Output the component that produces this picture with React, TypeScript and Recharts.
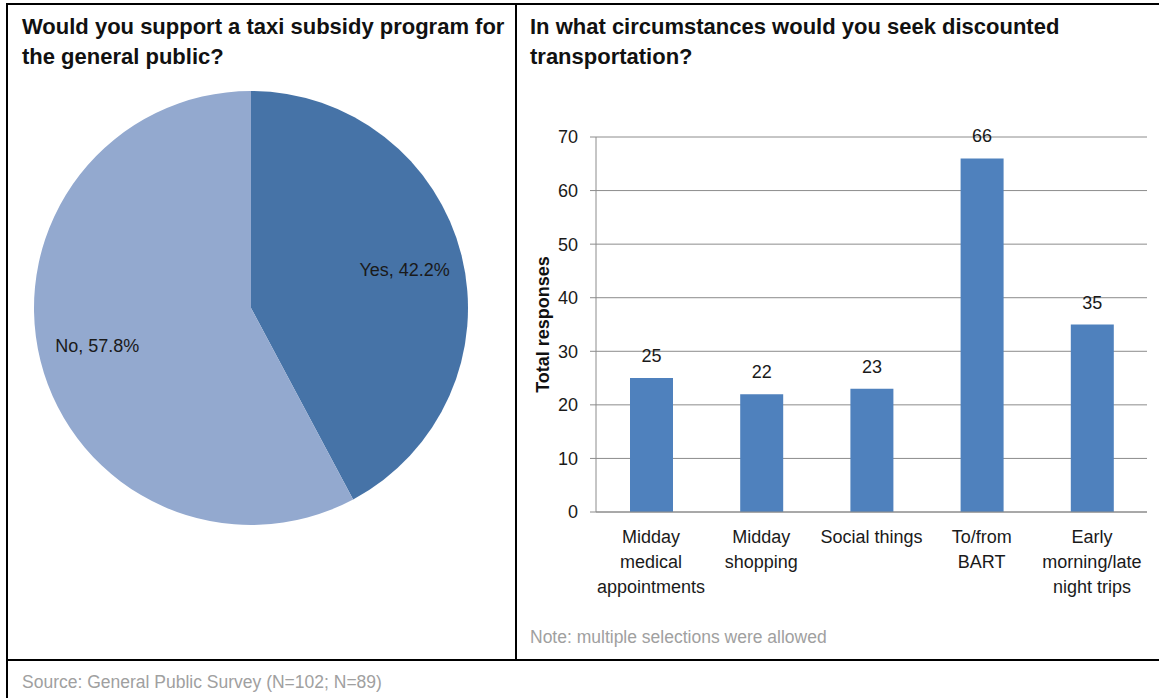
import React from 'react';
import { PieChart, Pie, Cell, BarChart, Bar, XAxis, YAxis, CartesianGrid, LabelList } from 'recharts';

const pieNames = ['Yes', 'No'];
const pieValues = [42.2, 57.8];
const pieColors = ['#4673A7', '#93A9CF'];

const categories = [
  'Midday medical appointments',
  'Midday shopping',
  'Social things',
  'To/from BART',
  'Early morning/late night trips',
];
const categoryLines = [
  ['Midday', 'medical', 'appointments'],
  ['Midday', 'shopping'],
  ['Social things'],
  ['To/from', 'BART'],
  ['Early', 'morning/late', 'night trips'],
];
const responses = [25, 22, 23, 66, 35];
const yTicks = [0, 10, 20, 30, 40, 50, 60, 70];

const FONT = '"Liberation Sans", Arial, sans-serif';

const pieData = pieNames.map((name, i) => ({ name, value: pieValues[i] }));
const barData = categories.map((c, i) => ({ category: c, idx: i, value: responses[i] }));

const RAD = Math.PI / 180;

function PieLabel(props: any) {
  const { cx, cy, midAngle, outerRadius, name, value } = props;
  const r = outerRadius * 0.73;
  const x = cx + r * Math.cos(-midAngle * RAD);
  const y = cy + r * Math.sin(-midAngle * RAD);
  return (
    <text x={x} y={y} textAnchor="middle" dominantBaseline="central" fill="#1a1a1a" fontSize={18} fontFamily={FONT}>
      {`${name}, ${value.toFixed(1)}%`}
    </text>
  );
}

function CategoryTick(props: any) {
  const { x, y, payload } = props;
  const lines = categoryLines[payload.index] || [payload.value];
  return (
    <text x={x} y={y} textAnchor="middle" fill="#1a1a1a" fontSize={18} fontFamily={FONT}>
      {lines.map((l: string, i: number) => (
        <tspan key={i} x={x} dy={i === 0 ? 23 : 25}>{l}</tspan>
      ))}
    </text>
  );
}

const line = '#000';

export default function App() {
  return (
    <div style={{ position: 'absolute', left: 0, top: 0, width: 1159, height: 698, background: '#fff', fontFamily: FONT, overflow: 'hidden' }}>
      {/* frame */}
      <div style={{ position: 'absolute', left: 6, top: 3, width: 1153, height: 2, background: line }} />
      <div style={{ position: 'absolute', left: 6, top: 3, width: 2, height: 695, background: line }} />
      <div style={{ position: 'absolute', left: 515, top: 3, width: 2, height: 658, background: line }} />
      <div style={{ position: 'absolute', left: 6, top: 659, width: 1153, height: 2, background: line }} />

      <div style={{ position: 'absolute', left: 22, top: 12, fontSize: 22, fontWeight: 'bold', lineHeight: '30px', color: '#111', whiteSpace: 'nowrap' }}>
        Would you support a taxi subsidy program for<br />the general public?
      </div>
      <div style={{ position: 'absolute', left: 530, top: 12, fontSize: 22, fontWeight: 'bold', lineHeight: '30px', color: '#111', whiteSpace: 'nowrap' }}>
        In what circumstances would you seek discounted<br />transportation?
      </div>

      <div style={{ position: 'absolute', left: 0, top: 0 }}>
        <PieChart width={515} height={655} margin={{ top: 0, right: 0, bottom: 0, left: 0 }}>
          <Pie
            data={pieData}
            dataKey="value"
            nameKey="name"
            cx={251}
            cy={308}
            outerRadius={217}
            startAngle={90}
            endAngle={-270}
            stroke="none"
            label={PieLabel}
            labelLine={false}
            isAnimationActive={false}
          >
            {pieData.map((d, i) => (
              <Cell key={d.name} fill={pieColors[i]} />
            ))}
          </Pie>
        </PieChart>
      </div>

      <div style={{ position: 'absolute', left: 516, top: 100 }}>
        <BarChart width={643} height={520} data={barData} margin={{ top: 37, right: 12, bottom: 28, left: 0 }}>
          <CartesianGrid vertical={false} stroke="#8c8c8c" />
          <XAxis
            dataKey="category"
            xAxisId="cat"
            height={80}
            tickLine={false}
            axisLine={{ stroke: '#8c8c8c' }}
            tick={<CategoryTick />}
            interval={0}
          />
          <XAxis
            xAxisId="edge"
            dataKey="idx"
            type="number"
            domain={[0, 5]}
            ticks={[0, 1, 2, 3, 4, 5]}
            tick={false}
            tickSize={6}
            tickLine={{ stroke: '#8c8c8c' }}
            axisLine={false}
            height={0}
          />
          <YAxis
            width={80}
            domain={[0, 70]}
            ticks={yTicks}
            tickSize={6}
            tickMargin={12}
            tickLine={{ stroke: '#8c8c8c' }}
            axisLine={{ stroke: '#8c8c8c' }}
            tick={{ fill: '#1a1a1a', fontSize: 18, fontFamily: FONT }}
            label={{ value: 'Total responses', angle: -90, position: 'insideLeft', offset: 27, style: { fontWeight: 'bold', fontSize: 18, fill: '#111', fontFamily: FONT, textAnchor: 'middle' } }}
          />
          <Bar xAxisId="cat" dataKey="value" fill="#4F81BD" barSize={43} isAnimationActive={false}>
            <LabelList dataKey="value" position="top" offset={16} fill="#1a1a1a" fontSize={18} fontFamily={FONT} />
          </Bar>
        </BarChart>
      </div>

      <div style={{ position: 'absolute', left: 530, top: 627, fontSize: 17.5, color: '#a0a0a0', whiteSpace: 'nowrap' }}>
        Note: multiple selections were allowed
      </div>
      <div style={{ position: 'absolute', left: 22, top: 672, fontSize: 17.5, color: '#a0a0a0', whiteSpace: 'nowrap' }}>
        Source: General Public Survey (N=102; N=89)
      </div>
    </div>
  );
}
